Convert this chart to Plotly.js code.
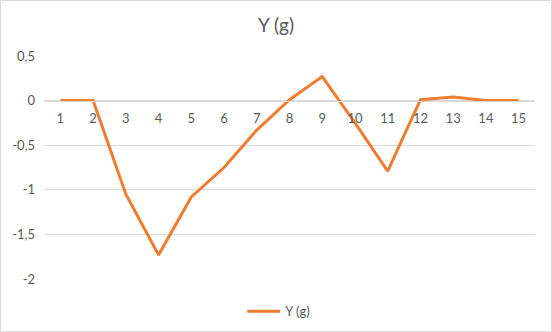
<!DOCTYPE html>
<html>
<head>
<meta charset="utf-8">
<script src="https://cdn.plot.ly/plotly-3.0.1.min.js"></script>
<style>
html,body{margin:0;padding:0;background:#fff;}
#chart{width:552px;height:332px;box-sizing:border-box;border:1px solid #d9d9d9;}
</style>
</head>
<body>
<div id="chart"></div>
<script>
const categories = ['1','2','3','4','5','6','7','8','9','10','11','12','13','14','15'];
const yValues = [0, 0, -1.05, -1.73, -1.08, -0.75, -0.33, 0.01, 0.27, -0.25, -0.79, 0.01, 0.04, 0, 0];
const seriesName = 'Y (g)';
const yTickVals = [0.5, 0, -0.5, -1, -1.5, -2];
const yTickText = ['0,5', '0', '-0,5', '-1', '-1,5', '-2'];

const font = "Lato, 'Open Sans', sans-serif";
const trace = {
  x: categories,
  y: yValues,
  type: 'scatter',
  mode: 'lines',
  name: seriesName,
  line: {color: '#ED7D31', width: 3}
};
const layout = {
  width: 550, height: 330,
  margin: {l: 43, r: 16, t: 55, b: 52, autoexpand: false},
  paper_bgcolor: '#fff', plot_bgcolor: '#fff',
  font: {family: font, color: '#595959', size: 13},
  title: {text: 'Y (g)', font: {family: font, size: 19, color: '#595959'}, x: 0.5, xanchor: 'center', y: 0.925, yanchor: 'middle'},
  showlegend: true,
  legend: {orientation: 'h', x: 0.478, xanchor: 'center', y: -0.145, yanchor: 'middle', font: {size: 13, color: '#595959'}, itemwidth: 33},
  xaxis: {
    type: 'category',
    range: [-0.5, 14.5],
    anchor: 'free', position: 0.8,
    showgrid: false, zeroline: false,
    showline: true, linecolor: '#d9d9d9', linewidth: 1,
    ticks: '', tickfont: {size: 13, color: '#595959'},
    ticklabelstandoff: 6,
    fixedrange: true
  },
  yaxis: {
    range: [-2, 0.5],
    tickvals: yTickVals, ticktext: yTickText,
    showgrid: true, gridcolor: '#d9d9d9', gridwidth: 1,
    zeroline: false, showline: false, ticks: '',
    tickfont: {size: 13, color: '#595959'},
    ticklabelstandoff: 8,
    fixedrange: true
  }
};
Plotly.newPlot('chart', [trace], layout, {displayModeBar: false, staticPlot: true});
</script>
</body>
</html>
